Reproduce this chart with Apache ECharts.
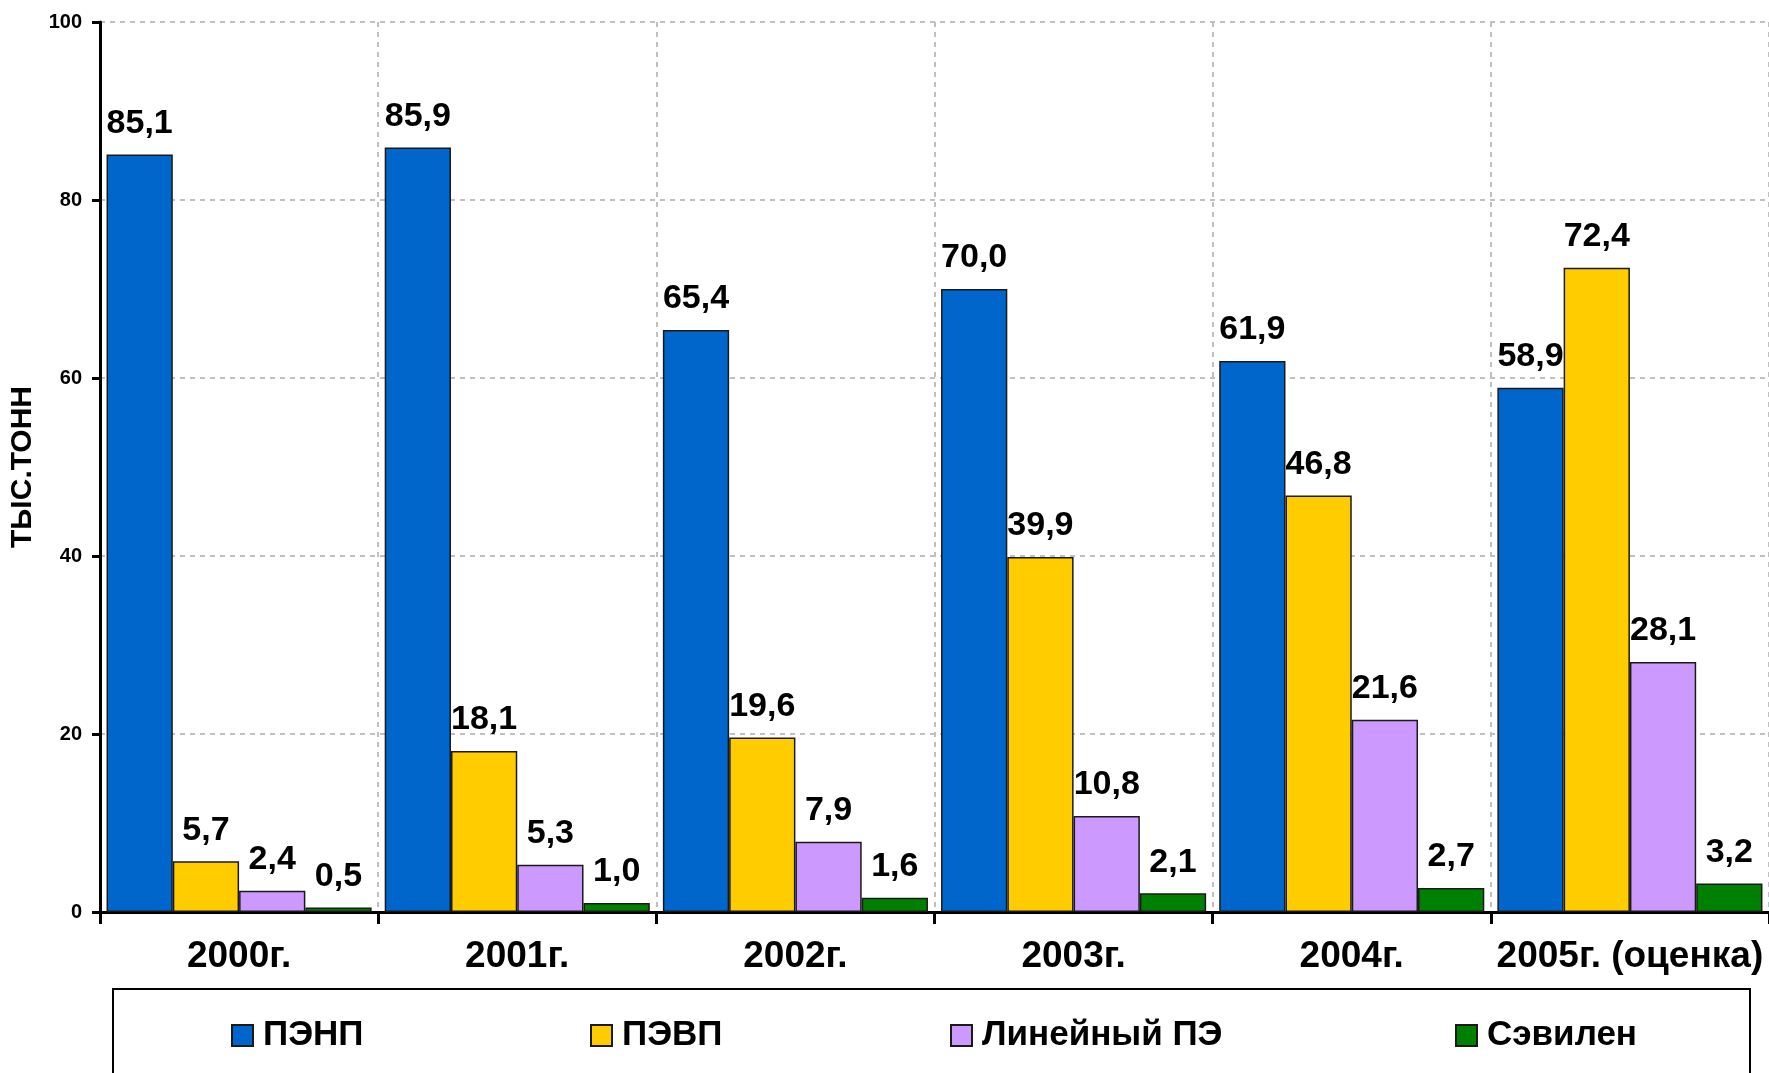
<!DOCTYPE html>
<html>
<head>
<meta charset="utf-8">
<script src="https://cdn.jsdelivr.net/npm/echarts@6/dist/echarts.min.js"></script>
<style>
html,body{margin:0;padding:0;background:#fff;}
#chart{width:1769px;height:1073px;}
</style>
</head>
<body>
<div id="chart"></div>
<script>
const categories = ['2000г.', '2001г.', '2002г.', '2003г.', '2004г.', '2005г. (оценка)'];
const seriesNames = ['ПЭНП', 'ПЭВП', 'Линейный ПЭ', 'Сэвилен'];
const pehp = [85.1, 85.9, 65.4, 70.0, 61.9, 58.9];
const pevp = [5.7, 18.1, 19.6, 39.9, 46.8, 72.4];
const linearPE = [2.4, 5.3, 7.9, 10.8, 21.6, 28.1];
const sevilen = [0.5, 1.0, 1.6, 2.1, 2.7, 3.2];
const yTicks = { min: 0, max: 100, interval: 20 };
const yAxisName = 'ТЫС.ТОНН';

const colors = ['#0066CC', '#FFCC00', '#CC99FF', '#008000'];
const FONT = '"Liberation Sans", Arial, sans-serif';
const values = [pehp, pevp, linearPE, sevilen];
const legendLefts = [231, 590, 950, 1455];

const chart = echarts.init(document.getElementById('chart'), null, { renderer: 'canvas' });

const series = seriesNames.map((name, i) => ({
  name: name,
  type: 'bar',
  data: values[i],
  barGap: '0%',
  barCategoryGap: '4.7%',
  itemStyle: { color: colors[i], borderColor: '#1a1a1a', borderWidth: 1.5 },
  label: {
    show: true,
    position: 'top',
    distance: 14,
    formatter: p => p.value.toFixed(1).replace('.', ','),
    fontFamily: FONT,
    fontWeight: 'bold',
    fontSize: 34,
    color: '#000'
  },
  animation: false
}));

const legends = seriesNames.map((name, i) => ({
  data: [name],
  left: legendLefts[i],
  top: 1018,
  padding: 0,
  itemWidth: 21,
  itemHeight: 21,
  icon: 'rect',
  selectedMode: false,
  textStyle: { fontFamily: FONT, fontWeight: 'bold', fontSize: 35, color: '#000', padding: [0, 0, 0, 5] }
}));

chart.setOption({
  backgroundColor: '#fff',
  animation: false,
  grid: { left: 100, right: 0, top: 22, bottom: 161, containLabel: false, outerBoundsMode: 'none' },
  legend: legends,
  graphic: [{
    type: 'rect',
    shape: { x: 113, y: 989, width: 1637, height: 140 },
    style: { fill: 'none', stroke: '#000', lineWidth: 2 },
    z: -1
  }],
  xAxis: {
    type: 'category',
    data: categories,
    boundaryGap: true,
    axisLine: { show: true, lineStyle: { color: '#000', width: 3 } },
    axisTick: { show: true, interval: 0, length: 12, lineStyle: { color: '#000', width: 3 } },
    axisLabel: { interval: 0, margin: 26, fontFamily: FONT, fontWeight: 'bold', fontSize: 37, color: '#000' },
    splitLine: { show: true, interval: 0, lineStyle: { color: '#c0c0c0', width: 2, type: [5, 5] } }
  },
  yAxis: {
    type: 'value',
    min: yTicks.min,
    max: yTicks.max,
    interval: yTicks.interval,
    name: yAxisName,
    nameLocation: 'middle',
    nameRotate: 90,
    nameGap: 58,
    nameTextStyle: { fontFamily: FONT, fontWeight: 'bold', fontSize: 30, color: '#000' },
    axisLine: { show: true, lineStyle: { color: '#000', width: 3 } },
    axisTick: { show: true, length: 8, lineStyle: { color: '#000', width: 3 } },
    axisLabel: { margin: 18, fontFamily: FONT, fontWeight: 'bold', fontSize: 20, color: '#000' },
    splitLine: { show: true, lineStyle: { color: '#c0c0c0', width: 2, type: [5, 5] } }
  },
  series: series
});
</script>
</body>
</html>
